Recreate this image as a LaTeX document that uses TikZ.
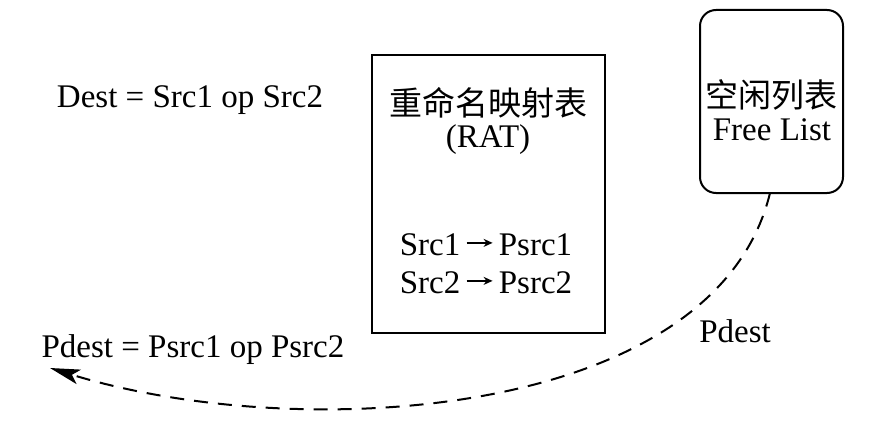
\documentclass[tikz,border=0pt]{standalone}
\usepackage{fontspec}
\setmainfont{Liberation Serif}
\newfontfamily\cjk{Noto Sans CJK SC}
\usetikzlibrary{arrows.meta}
\newcommand{\smallarr}{\tikz[baseline=-0.85ex]\draw[line width=1.5pt,-{Stealth[length=9pt,width=8pt]}](0,0)--(26pt,0);}
\begin{document}
\begin{tikzpicture}[x=1pt,y=-1pt,
  txt/.style={inner sep=0pt,font=\fontsize{33}{39}\selectfont},
  boxline/.style={draw,line width=2pt}]
\useasboundingbox[fill=white] (0,0) rectangle (893,428);
% boxes
\node[boxline,minimum width=233pt,minimum height=278pt,inner sep=0pt] (rat) at (488.5,194) {};
\node[boxline,rounded corners=16pt,minimum width=143pt,minimum height=183pt,inner sep=0pt] (fl) at (771.5,101.5) {};
% texts
\node[txt] (ratcn) at (488,103) {\cjk 重命名映射表};
\node[txt] (ratname) at (488,140) {(RAT)};
\node[txt] (m1) at (486,245) {Src1\,\smallarr\,Psrc1};
\node[txt] (m2) at (486,283) {Src2\,\smallarr\,Psrc2};
\node[txt] (flcn) at (771,95) {\cjk 空闲列表};
\node[txt] (flen) at (772,130) {Free List};
\node[txt] (dest) at (190,100) {Dest = Src1 op Src2};
\node[txt] (pd) at (193,350) {Pdest = Psrc1 op Psrc2};
\node[txt] (pdl) at (735,331) {Pdest};
% dashed arrow
\coordinate (tip) at (50,368);
\draw[line width=2pt,dash pattern=on 14pt off 10pt,-{Stealth[length=30pt,width=15pt,inset=7pt]}]
  ([xshift=-1.5pt,yshift=1pt]fl.south) .. controls (715,420) and (300,445) .. (tip);
\end{tikzpicture}
\end{document}
